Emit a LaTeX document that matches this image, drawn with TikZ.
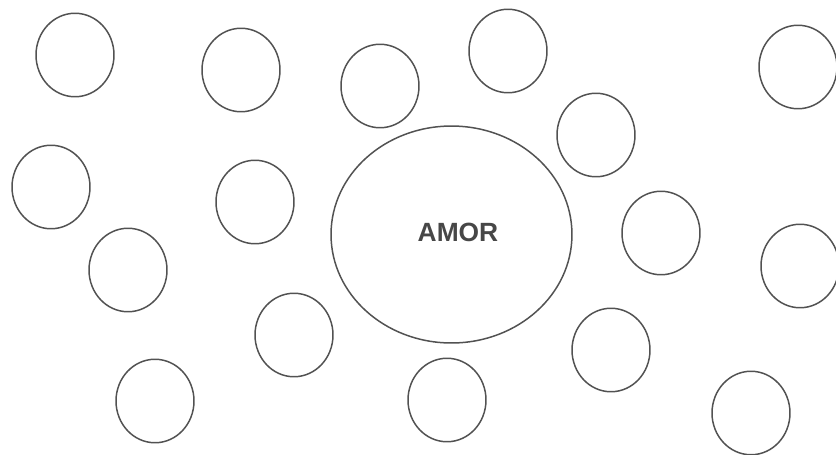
\documentclass[tikz,border=0pt]{standalone}
\usepackage{fontspec}
\setsansfont{Liberation Sans}
\usetikzlibrary{shapes.geometric}
\colorlet{linecol}{black!68}
\colorlet{textcol}{black!72}
\tikzstyle{bubble}=[draw=linecol,line width=0.85pt,ellipse,inner sep=0,
  minimum width=1.56cm,minimum height=1.67cm]
\tikzstyle{core}=[bubble,minimum width=4.82cm,minimum height=4.34cm,
  font=\sffamily\bfseries\fontsize{15}{18}\selectfont,text=textcol]

\begin{document}
\begin{tikzpicture}[x=0.02cm,y=-0.02cm]
  \useasboundingbox (0,0) rectangle (836,454);
  % centre
  \node[core] (amor) at (451.5,234.5) {};
  \node[font=\sffamily\bfseries\fontsize{15}{18}\selectfont,text=textcol] (amortext) at (458,232) {AMOR};
  % small bubbles round it
  \foreach \x/\y [count=\i] in {75/55, 241/70, 380/86, 508/51, 798/67,
      596/135, 51/187, 255/202, 128/270, 661/233, 800/266,
      294/335, 611/350, 155/401, 447/400, 751/413}
    \node[bubble] (b\i) at (\x,\y) {};
\end{tikzpicture}
\end{document}
